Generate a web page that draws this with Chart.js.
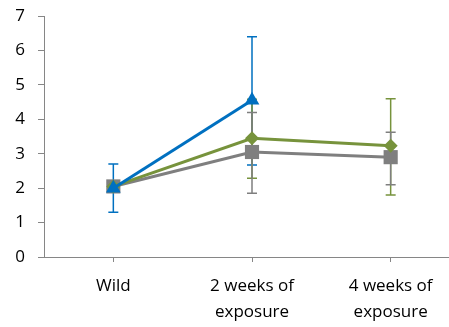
<!DOCTYPE html>
<html lang="en">
<head>
    <meta charset="UTF-8">
    <title>Exposure chart</title>
    <script src="https://cdn.jsdelivr.net/npm/chart.js@4.4.0/dist/chart.umd.min.js"></script>
    <style>
        html, body { margin: 0; padding: 0; background: #fff; overflow: hidden; }
        #wrap { width: 470px; height: 327px; }
    </style>
</head>
<body>
    <div id="wrap"><canvas id="chart" width="470" height="327"></canvas></div>

    <script>
        // categories and y ticks
        const categories = [['Wild'], ['2 weeks of', 'exposure'], ['4 weeks of', 'exposure']];
        const yMin = 0, yMax = 7, yStep = 1;

        // series values (means)
        const blueValues  = [2.0, 4.55, null];
        const greenValues = [2.05, 3.45, 3.23];
        const grayValues  = [2.05, 3.05, 2.9];

        // error bar ends (low / high)
        const blueLow   = [1.3, 2.67, null];
        const blueHigh  = [2.7, 6.4, null];
        const greenLow  = [null, 2.29, 1.8];
        const greenHigh = [null, 4.58, 4.6];
        const grayLow   = [null, 1.85, 2.1];
        const grayHigh  = [null, 4.2, 3.62];

        const BLUE = '#0070C0', GREEN = '#77933C', GRAY = '#7F7F7F', AXIS = '#868686';
        const FONT = "'Open Sans', sans-serif";

        // error bars drawn through the chart scales, under the markers
        const errorBars = {
            id: 'errorBars',
            beforeDatasetsDraw(chart) {
                const ctx = chart.ctx;
                const xs = chart.scales.x, ys = chart.scales.y;
                chart.data.datasets.forEach(ds => {
                    if (!ds.errLow) return;
                    ctx.save();
                    ctx.strokeStyle = ds.borderColor;
                    ctx.lineWidth = 1.5;
                    ds.errLow.forEach((lo, i) => {
                        const hi = ds.errHigh[i];
                        if (lo == null || hi == null) return;
                        const x = xs.getPixelForValue(i);
                        const y1 = ys.getPixelForValue(lo), y2 = ys.getPixelForValue(hi);
                        ctx.beginPath();
                        ctx.moveTo(x, y1); ctx.lineTo(x, y2);
                        ctx.moveTo(x - 5, y1); ctx.lineTo(x + 5, y1);
                        ctx.moveTo(x - 5, y2); ctx.lineTo(x + 5, y2);
                        ctx.stroke();
                    });
                    ctx.restore();
                });
            }
        };

        new Chart(document.getElementById('chart'), {
            type: 'line',
            data: {
                labels: categories,
                datasets: [
                    {
                        data: blueValues, errLow: blueLow, errHigh: blueHigh,
                        borderColor: BLUE, backgroundColor: BLUE, borderWidth: 3,
                        pointStyle: 'triangle', pointRadius: 8.5, pointBorderWidth: 0
                    },
                    {
                        data: greenValues, errLow: greenLow, errHigh: greenHigh,
                        borderColor: GREEN, backgroundColor: GREEN, borderWidth: 3,
                        pointStyle: 'rectRot', pointRadius: 7, pointBorderWidth: 0
                    },
                    {
                        data: grayValues, errLow: grayLow, errHigh: grayHigh,
                        borderColor: GRAY, backgroundColor: GRAY, borderWidth: 3,
                        pointStyle: 'rect', pointRadius: 10, pointBorderWidth: 0
                    }
                ]
            },
            options: {
                responsive: false,
                animation: false,
                layout: { padding: { left: 14, right: 0, top: 16, bottom: 0 } },
                plugins: { legend: { display: false }, tooltip: { enabled: false } },
                scales: {
                    x: {
                        offset: true,
                        afterFit: s => { s.height = 70; },
                        grid: { drawOnChartArea: false, tickLength: 5, color: AXIS },
                        border: { color: AXIS, width: 1 },
                        ticks: {
                            color: '#000', padding: 11, maxRotation: 0, autoSkip: false,
                            font: { family: FONT, size: 17, lineHeight: 1.53 }
                        }
                    },
                    y: {
                        min: yMin, max: yMax,
                        afterFit: s => { s.width = 30; s.paddingTop = 0; },
                        grid: { drawOnChartArea: false, tickLength: 6, color: AXIS },
                        border: { color: AXIS, width: 1 },
                        ticks: {
                            stepSize: yStep, color: '#000', padding: 13,
                            font: { family: FONT, size: 17 }
                        }
                    }
                }
            },
            plugins: [errorBars]
        });
    </script>
</body>
</html>
